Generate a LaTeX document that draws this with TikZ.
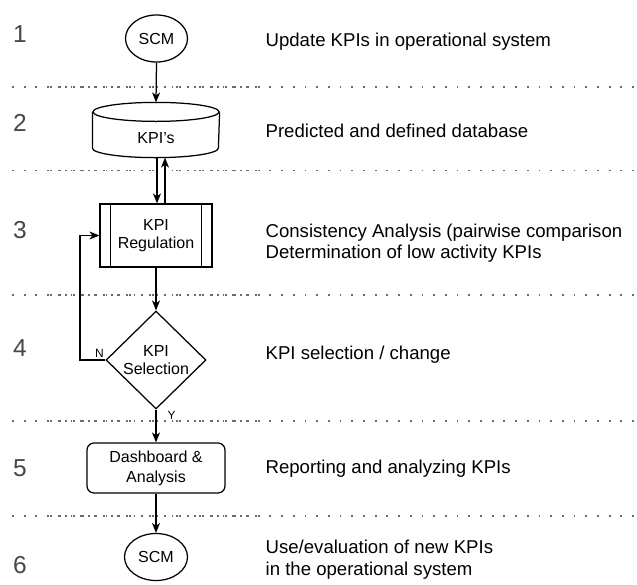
\documentclass[tikz,border=0pt]{standalone}
\usepackage{fontspec}
\setmainfont{Liberation Sans}
\usetikzlibrary{shapes.geometric,arrows.meta}
\begin{document}
\begin{tikzpicture}[x=1pt,y=-1pt,
  line width=1.25pt,
  >={Stealth[length=10pt,width=8pt,inset=3pt]},
  nodefont/.style={font=\fontsize{16}{19}\selectfont},
  box/.style={draw, nodefont, align=center, inner sep=0pt},
  num/.style={font=\fontsize{24.5}{24}\selectfont, text=black!72, inner sep=0pt, anchor=center},
  desc/.style={font=\fontsize{18.6}{22}\selectfont, inner sep=0pt, anchor=base west},
  small/.style={font=\fontsize{12}{12}\selectfont, inner sep=0pt},
  sparse/.style={line width=1.8pt, black!58, dash pattern=on 1.8pt off 9.9pt},
  dense/.style={line width=1.8pt, black!58, dash pattern=on 1.8pt off 5.8pt},
]
\fill[white] (0,0) rectangle (637,584);
\useasboundingbox (0,0) rectangle (637,584);

% separators
\foreach \yy in {87,170.5,295,421,516} {
  \draw[sparse] (12,\yy) -- (637,\yy);
  \draw[dense] (50,\yy) -- (262,\yy);
}

% numbers
\node[num] (n1) at (20,34) {1};
\node[num] (n2) at (20,122.5) {2};
\node[num] (n3) at (20,230) {3};
\node[num] (n4) at (20,348) {4};
\node[num] (n5) at (20,468) {5};
\node[num] (n6) at (20,565) {6};

% descriptions
\node[desc] (d1) at (265,46) {Update KPIs in operational system};
\node[desc] (d2) at (265,137) {Predicted and defined database};
\node[desc] (d3a) at (265,237) {Consistency Analysis (pairwise comparison};
\node[desc] (d3b) at (265,258.5) {Determination of low activity KPIs};
\node[desc] (d4) at (265,359.5) {KPI selection / change};
\node[desc] (d5) at (265,473.5) {Reporting and analyzing KPIs};
\node[desc] (d6a) at (265,553.5) {Use/evaluation of new KPIs};
\node[desc] (d6b) at (265,575) {in the operational system};

% SCM top
\node[box, ellipse, minimum width=62pt, minimum height=47pt] (scm1) at (156.5,38.5) {SCM};

% KPI's cylinder
\node[nodefont, minimum width=126pt, minimum height=54pt, inner sep=0pt,
      label={[nodefont, yshift=-8pt]center:KPI's}] (kpis) at (156,130) {};
\draw ([yshift=-9.5pt]kpis.north west) -- ([yshift=9.5pt]kpis.south west)
      arc[start angle=180, end angle=360, x radius=63pt, y radius=9.5pt]
      -- ([yshift=-9.5pt]kpis.north east);
\draw ([yshift=-9.5pt]kpis.north) ellipse[x radius=63pt, y radius=9.5pt];

% KPI Regulation
\node[box, minimum width=112pt, minimum height=63pt] (reg) at (156,235.5) {KPI\\[-1pt]Regulation};
\draw ([xshift=11pt]reg.north west) -- ([xshift=11pt]reg.south west);
\draw ([xshift=-11pt]reg.north east) -- ([xshift=-11pt]reg.south east);

% KPI Selection
\node[draw, diamond, minimum width=100pt, minimum height=98pt, inner sep=0pt,
      label={[nodefont, align=center]center:KPI\\[-1pt]Selection}] (sel) at (156,360) {};

% Dashboard
\node[box, rounded corners=7pt, minimum width=138pt, minimum height=50pt] (dashb) at (156,468) {Dashboard \&\\[1pt]Analysis};

% SCM bottom
\node[box, ellipse, minimum width=63pt, minimum height=47pt] (scm2) at (156,557) {SCM};

% connectors
\draw[->] (scm1.south) -- (kpis.north);
\draw[->] ([xshift=1pt]kpis.south) -- ([xshift=1pt]reg.north);
\draw[->] ([xshift=9pt]reg.north) -- ([xshift=9pt]kpis.south);
\draw[->] (reg.south) -- (sel.north);
\coordinate (fb) at (80,360);
\draw[->] (sel.west) -- (fb) |- (reg.west);
\draw[->] (sel.south) -- (dashb.north);
\draw[->] (dashb.south) -- (scm2.north);

% branch labels
\node[small, anchor=south east] (nlab) at ([xshift=-1pt,yshift=2pt]sel.west) {N};
\node[small, anchor=north west] (ylab) at ([xshift=11pt,yshift=-1pt]sel.south) {Y};
\end{tikzpicture}
\end{document}
